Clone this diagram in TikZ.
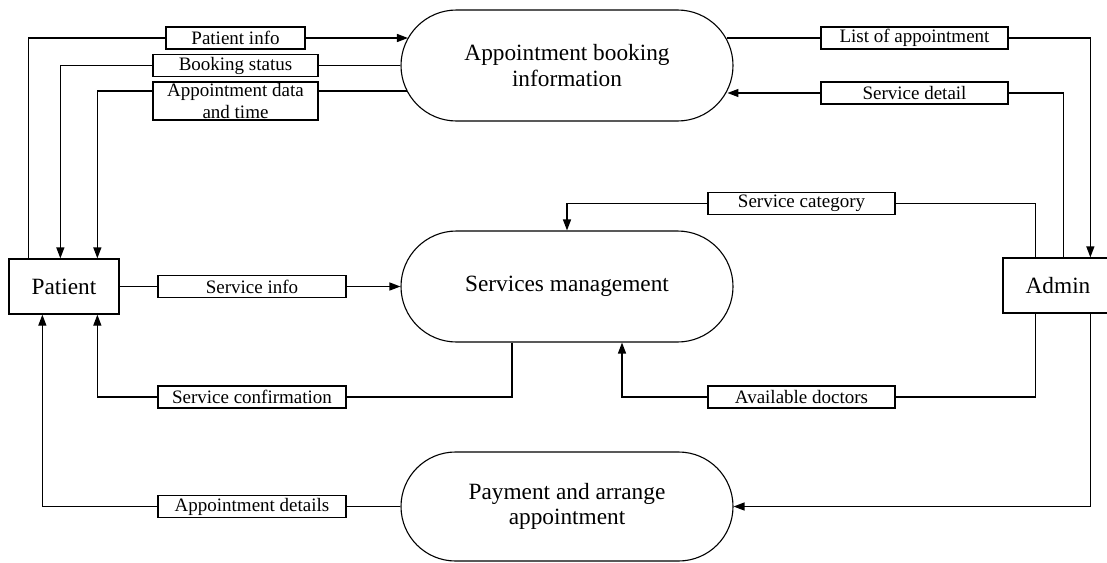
\documentclass[tikz,border=0pt]{standalone}
\usepackage{fontspec}
\setmainfont{Liberation Serif}
\usetikzlibrary{shapes.misc,arrows.meta}

\begin{document}
\begin{tikzpicture}[x=1pt,y=-1pt,
  flow/.style={line width=1.3pt, draw=black},
  arr/.style={flow, -{Triangle[length=11pt,width=8pt]}},
  proc/.style={rounded rectangle, draw, line width=1.1pt, minimum width=332pt,
    minimum height=111pt, inner sep=0pt, align=center,
    font=\fontsize{23.3}{25.6}\selectfont},
  entity/.style={rectangle, draw, line width=1.3pt, minimum width=110pt,
    minimum height=55pt, inner sep=0pt, font=\fontsize{23.3}{27}\selectfont},
  flowlabel/.style={rectangle, draw, fill=white, line width=1.3pt,
    minimum height=22pt, inner sep=0pt, align=center,
    font=\fontsize{19}{21}\selectfont},
]
\useasboundingbox (0,0) rectangle (1107,562);
\clip (0,0) rectangle (1107,562);

% processes
\node[proc] (abook) at (567,65.5) {Appointment booking\\information};
\node[proc] (smgmt) at (567,286.5) {Services management};
\node[proc, minimum height=109pt] (pay) at (567,506.5) {Payment and arrange\\appointment};

% external entities
\node[entity] (patient) at (64,286.5) {Patient};
\node[entity] (admin) at (1058,285.5) {Admin};

% data flow labels
\node[flowlabel, minimum width=139pt] (lpinfo) at (235.5,38) {Patient info};
\node[flowlabel, minimum width=165pt] (lbstat) at (235.5,65.5) {Booking status};
\node[flowlabel, minimum width=165pt, minimum height=38pt] (ladt) at (235.5,101) {Appointment data\\and time};
\node[flowlabel, minimum width=188pt] (lsinfo) at (252,286.5) {Service info};
\node[flowlabel, minimum width=188pt] (lsconf) at (252,397) {Service confirmation};
\node[flowlabel, minimum width=188pt] (ladet) at (252,506.5) {Appointment details};
\node[flowlabel, minimum width=187pt] (llist) at (914.5,38) {List of appointment};
\node[flowlabel, minimum width=187pt] (lsdet) at (914.5,93) {Service detail};
\node[flowlabel, minimum width=187pt] (lscat) at (801.5,203.5) {Service category};
\node[flowlabel, minimum width=187pt] (lavail) at (801.5,397) {Available doctors};

% patient <-> appointment booking
\draw[flow] ([xshift=20pt]patient.north west) |- (lpinfo.west);
\draw[arr] (lpinfo.east) -- (lpinfo.east -| abook.170.17);
\draw[flow] (abook.west) -- (lbstat.east);
\draw[arr] (lbstat.west) -| ([xshift=52pt]patient.north west);
\draw[flow] (abook.189.83) -- (abook.189.83 -| ladt.east);
\draw[arr] (abook.189.83 -| ladt.west) -| ([xshift=89pt]patient.north west);

% patient <-> services management
\draw[flow] (patient.east) -- (lsinfo.west);
\draw[arr] (lsinfo.east) -- (smgmt.west);
\draw[flow] ([xshift=-55pt]smgmt.south) |- (lsconf.east);
\draw[arr] (lsconf.west) -| ([xshift=89pt]patient.south west);

% payment -> patient
\draw[flow] (pay.west) -- (ladet.east);
\draw[arr] (ladet.west) -| ([xshift=34pt]patient.south west);

% admin <-> appointment booking
\draw[flow] (llist.west -| abook.9.83) -- (llist.west);
\draw[arr] (llist.east) -| ([xshift=88pt]admin.north west);
\draw[flow] ([xshift=61pt]admin.north west) |- (lsdet.east);
\draw[arr] (lsdet.west) -- (lsdet.west -| abook.-9.83);

% admin <-> services management
\draw[flow] ([xshift=33pt]admin.north west) |- (lscat.east);
\draw[arr] (lscat.west) -| (smgmt.north);
\draw[flow] ([xshift=33pt]admin.south west) |- (lavail.east);
\draw[arr] (lavail.west) -| ([xshift=55pt]smgmt.south);

% admin -> payment
\draw[arr] ([xshift=88pt]admin.south west) |- (pay.east);
\end{tikzpicture}
\end{document}
